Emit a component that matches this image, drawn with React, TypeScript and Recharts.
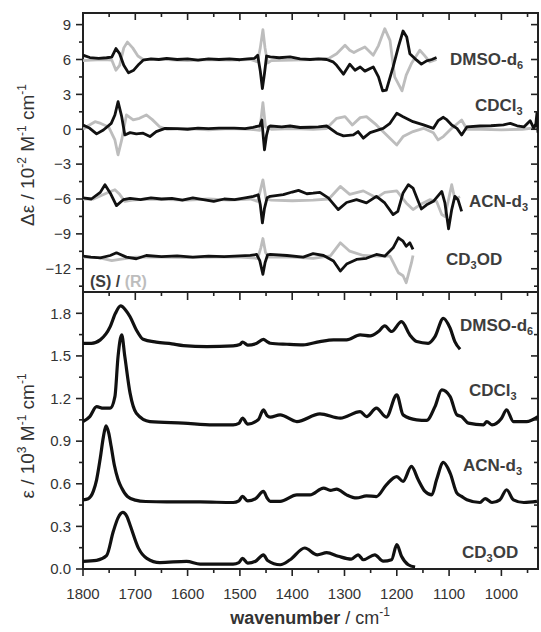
import React from "react";
import { LineChart, Line, XAxis, YAxis, ReferenceArea } from "recharts";

// wavenumber axis (reversed), shared by both panels
const xTicks = [1800, 1750, 1700, 1650, 1600, 1550, 1500, 1450, 1400, 1350, 1300, 1250, 1200, 1150, 1100, 1050, 1000, 950];
const vcdTicks = [-13.5, -12, -10.5, -9, -7.5, -6, -4.5, -3, -1.5, 0, 1.5, 3, 4.5, 6, 7.5, 9];
const irTicks = [0, 0.15, 0.3, 0.45, 0.6, 0.75, 0.9, 1.05, 1.2, 1.35, 1.5, 1.65, 1.8];

// VCD spectra, [wavenumber, delta-eps] ; S = black, R = grey
const vcdDmsoS = [[1800,6.37],[1787,6.17],[1770,6.1],[1755,6.15],[1745,6.2],[1737,6.94],[1730,6.5],[1722,5.5],[1713,4.85],[1703,5.08],[1693,5.6],[1685,5.94],[1670,6.05],[1655,6.0],[1640,6.1],[1620,6.0],[1600,6.05],[1580,5.95],[1560,6.05],[1540,6.0],[1520,6.05],[1500,5.98],[1485,6.05],[1472,6.1],[1466,6.37],[1461,5.0],[1457,3.5],[1453,4.8],[1449,6.3],[1442,6.22],[1425,6.15],[1404,6.22],[1385,6.05],[1366,6.0],[1350,6.05],[1334,6.0],[1322,5.8],[1315,5.5],[1302,4.74],[1290,5.6],[1280,5.08],[1270,5.36],[1261,5.0],[1245,5.36],[1235,4.5],[1227,3.3],[1220,3.37],[1207,5.36],[1197,7.08],[1188,8.45],[1181,7.93],[1175,6.5],[1162,5.94],[1153,5.6],[1143,5.88],[1133,6.0],[1124,6.17]];
const vcdDmsoR = [[1800,5.9],[1785,5.95],[1760,6.0],[1745,5.95],[1737,5.08],[1730,5.5],[1722,7.0],[1715,7.5],[1705,7.0],[1695,6.3],[1685,6.0],[1640,6.0],[1600,5.9],[1560,6.0],[1520,5.95],[1480,6.0],[1466,5.8],[1461,7.0],[1456,8.57],[1452,7.0],[1447,5.7],[1440,5.9],[1400,5.95],[1360,6.0],[1330,6.1],[1315,6.5],[1299,7.22],[1290,6.8],[1282,6.6],[1274,6.8],[1261,7.08],[1245,6.37],[1235,7.2],[1229,7.93],[1223,8.65],[1213,7.65],[1204,4.5],[1190,3.3],[1182,4.65],[1172,5.65],[1163,6.3],[1156,6.8],[1148,6.4],[1137,5.8],[1124,6.0]];
const vcdCdcl3S = [[1800,0.37],[1787,0.08],[1774,-0.4],[1761,-0.06],[1746,0.51],[1739,1.23],[1733,2.37],[1726,1.08],[1720,-0.49],[1710,-0.29],[1698,-0.4],[1685,-0.34],[1672,-0.63],[1660,-0.2],[1643,0.08],[1620,0.05],[1600,0.0],[1580,0.1],[1560,0.05],[1540,0.1],[1511,0.1],[1490,0.05],[1475,0.17],[1462,0.3],[1458,0.8],[1455,-0.8],[1453,-1.77],[1449,-0.5],[1445,0.2],[1442,0.28],[1420,0.2],[1404,0.28],[1385,0.15],[1366,0.17],[1350,0.2],[1334,0.28],[1315,-0.34],[1302,-0.57],[1283,-0.49],[1274,-0.2],[1264,-0.77],[1251,-0.29],[1226,0.08],[1213,0.51],[1200,1.37],[1188,1.08],[1169,0.65],[1149,0.37],[1130,0.08],[1121,0.74],[1111,1.03],[1104,0.8],[1095,0.37],[1085,0.08],[1076,-0.49],[1066,0.2],[1041,0.28],[1020,0.3],[996,0.37],[983,0.51],[970,0.3],[957,0.2],[945,0.74],[938,0.08],[934,0.5],[932,1.4],[930,-0.3]];
const vcdCdcl3R = [[1800,0.0],[1790,0.3],[1777,0.65],[1766,0.5],[1751,0.2],[1739,-0.92],[1733,-2.2],[1726,-0.92],[1717,1.23],[1704,0.8],[1692,0.94],[1679,1.23],[1668,0.85],[1653,0.2],[1640,0.0],[1600,0.05],[1560,-0.05],[1520,0.05],[1480,0.0],[1462,-0.1],[1456,2.28],[1451,0.2],[1440,0.0],[1400,0.05],[1360,0.0],[1335,0.05],[1315,0.94],[1299,1.08],[1285,0.37],[1270,1.0],[1258,1.08],[1239,0.37],[1223,-0.34],[1200,-1.35],[1188,-0.63],[1169,-0.2],[1149,0.08],[1130,-0.3],[1121,-0.92],[1111,-0.63],[1095,0.08],[1076,0.8],[1066,0.0],[1040,0.0],[1000,-0.05],[960,0.0],[940,0.1],[932,0.4]];
const vcdAcnS = [[1800,-5.91],[1784,-6.0],[1767,-5.43],[1758,-4.77],[1748,-5.48],[1736,-6.57],[1723,-6.06],[1710,-5.95],[1690,-6.05],[1670,-5.9],[1650,-6.0],[1630,-5.95],[1610,-6.1],[1590,-5.9],[1570,-6.05],[1550,-6.2],[1530,-6.0],[1510,-6.05],[1490,-5.9],[1474,-5.77],[1465,-5.63],[1461,-6.5],[1457,-8.06],[1453,-6.8],[1448,-5.9],[1442,-5.77],[1417,-5.63],[1400,-5.4],[1388,-5.26],[1372,-5.55],[1360,-5.5],[1347,-5.43],[1331,-5.9],[1312,-6.91],[1296,-6.3],[1277,-6.06],[1258,-6.34],[1239,-5.77],[1223,-6.34],[1207,-7.34],[1198,-7.06],[1188,-5.48],[1178,-4.77],[1169,-5.06],[1159,-6.2],[1153,-6.86],[1143,-6.5],[1130,-6.2],[1114,-5.35],[1108,-6.34],[1101,-8.57],[1095,-6.91],[1089,-5.77],[1083,-6.06],[1076,-7.06]];
const vcdAcnR = [[1800,-6.0],[1780,-6.0],[1765,-5.7],[1750,-5.4],[1739,-5.2],[1730,-5.6],[1720,-6.2],[1705,-6.1],[1680,-6.0],[1640,-6.05],[1600,-6.1],[1560,-6.0],[1520,-6.1],[1480,-6.0],[1466,-6.2],[1456,-4.35],[1450,-6.0],[1440,-6.1],[1400,-6.15],[1360,-6.1],[1330,-6.0],[1308,-4.92],[1290,-5.6],[1264,-5.3],[1239,-5.9],[1223,-5.43],[1200,-5.3],[1182,-6.34],[1169,-6.91],[1156,-6.5],[1137,-6.06],[1124,-6.2],[1114,-7.34],[1108,-7.5],[1095,-4.77],[1089,-6.0],[1079,-5.8]];
const vcdCd3odS = [[1800,-10.92],[1785,-11.0],[1767,-11.06],[1748,-10.86],[1736,-10.63],[1717,-11.0],[1698,-11.14],[1679,-10.86],[1650,-10.95],[1620,-10.9],[1590,-11.0],[1560,-10.92],[1530,-10.95],[1500,-10.9],[1480,-10.85],[1468,-10.77],[1462,-11.3],[1456,-12.48],[1452,-11.5],[1447,-10.8],[1442,-10.77],[1410,-10.86],[1379,-11.0],[1360,-10.7],[1340,-10.86],[1321,-11.34],[1308,-12.2],[1296,-11.6],[1277,-11.2],[1258,-11.1],[1239,-10.77],[1223,-10.92],[1207,-10.2],[1197,-9.34],[1188,-9.63],[1182,-10.06],[1175,-9.77],[1169,-10.34]];
const vcdCd3odR = [[1800,-11.0],[1770,-11.05],[1745,-11.3],[1730,-11.2],[1700,-11.0],[1650,-11.0],[1600,-11.05],[1550,-11.0],[1500,-11.0],[1466,-11.1],[1460,-10.2],[1456,-9.4],[1451,-10.6],[1445,-11.0],[1400,-11.0],[1360,-11.1],[1327,-10.9],[1308,-9.77],[1290,-10.49],[1264,-10.86],[1239,-10.92],[1213,-10.92],[1197,-12.34],[1188,-12.6],[1182,-13.2],[1172,-11.5],[1169,-10.86]];

// IR spectra, [wavenumber, eps] (offset per solvent)
const irDmso = [[1800,1.589],[1784,1.589],[1767,1.613],[1748,1.706],[1738,1.8],[1728,1.852],[1718,1.82],[1710,1.776],[1698,1.683],[1685,1.617],[1660,1.597],[1630,1.585],[1608,1.573],[1563,1.566],[1513,1.571],[1500,1.58],[1495,1.598],[1485,1.576],[1470,1.585],[1455,1.617],[1448,1.6],[1442,1.589],[1410,1.582],[1379,1.578],[1347,1.601],[1321,1.613],[1296,1.613],[1270,1.648],[1251,1.641],[1235,1.672],[1223,1.711],[1210,1.672],[1191,1.741],[1175,1.648],[1162,1.601],[1140,1.589],[1127,1.636],[1111,1.765],[1098,1.695],[1089,1.601],[1079,1.547]];
const irCdcl3 = [[1800,1.038],[1787,1.073],[1774,1.143],[1761,1.132],[1748,1.132],[1739,1.213],[1733,1.495],[1726,1.648],[1720,1.495],[1710,1.238],[1698,1.097],[1672,1.038],[1608,1.027],[1551,1.015],[1513,1.015],[1502,1.025],[1495,1.062],[1485,1.02],[1465,1.05],[1455,1.12],[1448,1.08],[1442,1.069],[1423,1.085],[1391,1.038],[1347,1.092],[1308,1.062],[1270,1.108],[1258,1.073],[1239,1.132],[1220,1.069],[1200,1.226],[1188,1.085],[1162,1.05],[1143,1.046],[1127,1.143],[1114,1.261],[1098,1.214],[1085,1.085],[1076,1.073],[1063,1.027],[1034,1.015],[1028,1.038],[1018,1.015],[1000,1.06],[990,1.12],[977,1.038],[952,1.038],[930,1.073]];
const irAcn = [[1800,0.487],[1790,0.495],[1780,0.55],[1774,0.628],[1767,0.78],[1761,0.93],[1756,1.008],[1751,0.96],[1746,0.86],[1740,0.73],[1733,0.63],[1726,0.57],[1715,0.51],[1700,0.485],[1680,0.475],[1640,0.472],[1576,0.472],[1513,0.468],[1502,0.48],[1495,0.511],[1485,0.479],[1470,0.495],[1455,0.546],[1448,0.5],[1442,0.476],[1423,0.476],[1391,0.522],[1366,0.522],[1340,0.57],[1327,0.554],[1315,0.563],[1296,0.522],[1277,0.5],[1258,0.515],[1239,0.51],[1220,0.593],[1200,0.651],[1188,0.617],[1172,0.722],[1159,0.628],[1146,0.546],[1133,0.522],[1124,0.628],[1111,0.75],[1098,0.675],[1085,0.534],[1076,0.511],[1066,0.487],[1041,0.468],[1031,0.496],[1018,0.468],[1003,0.487],[990,0.558],[977,0.487],[957,0.468],[932,0.476]];
const irCd3od = [[1800,0.054],[1774,0.061],[1755,0.094],[1742,0.265],[1733,0.36],[1724,0.398],[1716,0.37],[1710,0.31],[1694,0.147],[1678,0.075],[1653,0.045],[1602,0.054],[1576,0.035],[1513,0.035],[1502,0.045],[1495,0.075],[1485,0.042],[1470,0.055],[1455,0.1],[1447,0.06],[1423,0.03],[1404,0.065],[1376,0.148],[1352,0.1],[1334,0.115],[1312,0.09],[1287,0.07],[1274,0.1],[1264,0.065],[1242,0.1],[1226,0.055],[1210,0.065],[1200,0.171],[1191,0.09],[1178,0.03],[1165,0.014]];

const pts = (arr: number[][]) => arr.map(([w, v]) => ({ w, v }));

const FONT = "'Liberation Sans', Arial, sans-serif";
const INK = "#222";
const TXT = "#333";
const PLOT_W = 455;
const IR_PLOT_H = 277;

const isMajor = (v: number, step: number) => Math.abs(v / step - Math.round(v / step)) < 1e-6;
const fmt = (v: number, dec: number) => (v < 0 ? "\u2212" : "") + Math.abs(v).toFixed(dec);

// left labels + outward ticks, plus inward ticks on the right frame
const makeYTick = (step: number, dec: number) => (props: any) => {
  const { x, y, payload } = props;
  const major = isMajor(payload.value, step);
  const len = major ? 7 : 4;
  return (
    <g>
      <line x1={x - len} x2={x} y1={y} y2={y} stroke={INK} strokeWidth={1.6} />
      <line x1={x + PLOT_W - len} x2={x + PLOT_W} y1={y} y2={y} stroke={INK} strokeWidth={1.6} />
      {major && (
        <text x={x - 12} y={y + 5.3} textAnchor="end" fontSize={15} fontFamily={FONT} fill={TXT}>
          {fmt(payload.value, dec)}
        </text>
      )}
    </g>
  );
};

// top frame of the VCD panel: inward ticks only
const TopXTick = (props: any) => {
  const { x, y, payload } = props;
  const len = isMajor(payload.value, 100) ? 7 : 4;
  return <line x1={x} x2={x} y1={y} y2={y + len} stroke={INK} strokeWidth={1.6} />;
};

// bottom axis of the IR panel: outward ticks with labels, inward ticks on its top frame
const BottomXTick = (props: any) => {
  const { x, y, payload } = props;
  const major = isMajor(payload.value, 100);
  const len = major ? 7 : 4;
  const top = y - IR_PLOT_H;
  return (
    <g>
      <line x1={x} x2={x} y1={y} y2={y + len} stroke={INK} strokeWidth={1.6} />
      <line x1={x} x2={x} y1={top} y2={top + (major ? 8 : 4)} stroke={INK} strokeWidth={1.6} />
      {major && (
        <text x={x} y={y + 30} textAnchor="middle" fontSize={15} fontFamily={FONT} fill={TXT}>
          {payload.value}
        </text>
      )}
    </g>
  );
};

const vcdS = [vcdDmsoS, vcdCdcl3S, vcdAcnS, vcdCd3odS];
const vcdR = [vcdDmsoR, vcdCdcl3R, vcdAcnR, vcdCd3odR];
const irAll = [irDmso, irCdcl3, irAcn, irCd3od];

const labelStyle = { fontFamily: FONT, fontWeight: 700, fontSize: 17, fill: "#3d3d3d" } as const;
const SUB = 11;
const SUP = 12;

export default function App() {
  return (
    <div style={{ position: "absolute", left: 0, top: 0, width: 541, height: 632, background: "#fff" }}>
      <div style={{ position: "absolute", left: 0, top: 0 }}>
        <LineChart width={541} height={292} margin={{ top: 12, right: 3, bottom: 0, left: 0 }}>
          <XAxis
            type="number"
            dataKey="w"
            domain={[930, 1800]}
            reversed
            allowDataOverflow
            orientation="top"
            height={1}
            ticks={xTicks}
            interval={0}
            tickSize={0}
            tickMargin={0}
            tickLine={false}
            axisLine={false}
            tick={TopXTick}
          />
          <YAxis
            type="number"
            domain={[-14, 10]}
            allowDataOverflow
            width={83}
            ticks={vcdTicks}
            interval={0}
            tickSize={0}
            tickMargin={0}
            tickLine={false}
            axisLine={false}
            tick={makeYTick(3, 0)}
          />
          {vcdR.map((d, i) => (
            <Line key={"r" + i} data={pts(d)} dataKey="v" type="linear" stroke="#bdbdbd" strokeWidth={2.8}
              dot={false} isAnimationActive={false} strokeLinejoin="round" />
          ))}
          {vcdS.map((d, i) => (
            <Line key={"s" + i} data={pts(d)} dataKey="v" type="linear" stroke="#111" strokeWidth={2.8}
              dot={false} isAnimationActive={false} strokeLinejoin="round" />
          ))}
          <ReferenceArea x1={1800} x2={930} y1={-14} y2={10} fill="none" stroke={INK} strokeWidth={2} ifOverflow="visible" />
        </LineChart>
      </div>
      <div style={{ position: "absolute", left: 0, top: 280 }}>
        <LineChart width={541} height={352} margin={{ top: 12, right: 3, bottom: 0, left: 0 }}>
          <XAxis
            type="number"
            dataKey="w"
            domain={[930, 1800]}
            reversed
            allowDataOverflow
            height={63}
            ticks={xTicks}
            interval={0}
            tickSize={0}
            tickMargin={0}
            tickLine={false}
            axisLine={false}
            tick={BottomXTick}
          />
          <YAxis
            type="number"
            domain={[0, 1.95]}
            allowDataOverflow
            width={83}
            ticks={irTicks}
            interval={0}
            tickSize={0}
            tickMargin={0}
            tickLine={false}
            axisLine={false}
            tick={makeYTick(0.3, 1)}
          />
          {irAll.map((d, i) => (
            <Line key={"ir" + i} data={pts(d)} dataKey="v" type="monotone" stroke="#111" strokeWidth={3.2}
              dot={false} isAnimationActive={false} strokeLinejoin="round" />
          ))}
          <ReferenceArea x1={1800} x2={930} y1={0} y2={1.95} fill="none" stroke={INK} strokeWidth={2} ifOverflow="visible" />
        </LineChart>
      </div>
      <svg width={541} height={632} style={{ position: "absolute", left: 0, top: 0, pointerEvents: "none" }}>
        {/* VCD panel labels */}
        <text x={450} y={65} {...labelStyle}>DMSO-d<tspan dy={4} fontSize={SUB}>6</tspan></text>
        <text x={475} y={111} {...labelStyle}>CDCl<tspan dy={4} fontSize={SUB}>3</tspan></text>
        <text x={469} y={207} {...labelStyle}>ACN-d<tspan dy={4} fontSize={SUB}>3</tspan></text>
        <text x={446} y={265} {...labelStyle}>CD<tspan dy={4} fontSize={SUB}>3</tspan><tspan dy={-4}>OD</tspan></text>
        <text x={90} y={287} {...labelStyle} fontSize={16}>
          (S) / <tspan fill="#bdbdbd">(R)</tspan>
        </text>
        {/* IR panel labels */}
        <text x={460} y={331} {...labelStyle}>DMSO-d<tspan dy={4} fontSize={SUB}>6</tspan></text>
        <text x={469} y={396} {...labelStyle}>CDCl<tspan dy={4} fontSize={SUB}>3</tspan></text>
        <text x={463} y={471} {...labelStyle}>ACN-d<tspan dy={4} fontSize={SUB}>3</tspan></text>
        <text x={462} y={558} {...labelStyle}>CD<tspan dy={4} fontSize={SUB}>3</tspan><tspan dy={-4}>OD</tspan></text>
        {/* axis titles */}
        <text transform="translate(34,155) rotate(-90)" textAnchor="middle" fontSize={19} fontFamily={FONT} fill={TXT}>
          Δε / 10<tspan dy={-8} fontSize={SUP}>-2</tspan>
          <tspan dy={8}> M</tspan><tspan dy={-8} fontSize={SUP}>-1</tspan>
          <tspan dy={8}> cm</tspan><tspan dy={-8} fontSize={SUP}>-1</tspan>
        </text>
        <text transform="translate(34,436) rotate(-90)" textAnchor="middle" fontSize={19} fontFamily={FONT} fill={TXT}>
          ε / 10<tspan dy={-8} fontSize={SUP}>3</tspan>
          <tspan dy={8}> M</tspan><tspan dy={-8} fontSize={SUP}>-1</tspan>
          <tspan dy={8}> cm</tspan><tspan dy={-8} fontSize={SUP}>-1</tspan>
        </text>
        <text x={310} y={624} textAnchor="middle" fontSize={18} fontFamily={FONT} fill={TXT}>
          <tspan fontWeight={700}>wavenumber</tspan> / cm<tspan dy={-8} fontSize={SUP}>-1</tspan>
        </text>
      </svg>
    </div>
  );
}
